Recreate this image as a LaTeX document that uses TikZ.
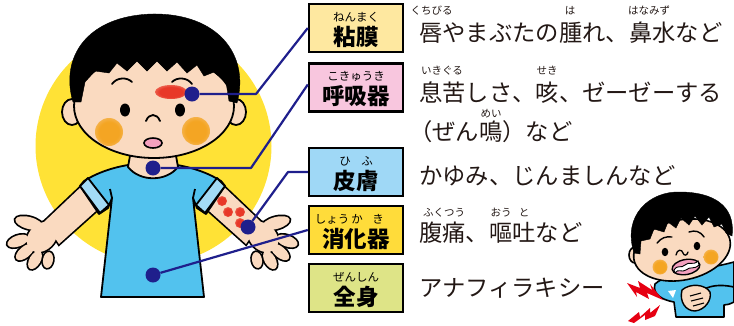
\documentclass[tikz,border=0pt]{standalone}
\usepackage{fontspec}
\newfontfamily\jp{Noto Sans CJK JP}
\usetikzlibrary{calc}

\definecolor{sun}{HTML}{FFE236}
\definecolor{skin}{HTML}{FADAC0}
\definecolor{shirt}{HTML}{52C2EE}
\definecolor{cuff}{HTML}{A3DBF6}
\definecolor{navy}{HTML}{1F1F8C}
\definecolor{cheek}{HTML}{F4A523}
\definecolor{rash}{HTML}{E83828}
\definecolor{mouthpink}{HTML}{F4A0BE}
\definecolor{bolt}{HTML}{E60012}
\definecolor{ink}{HTML}{231815}
\definecolor{boxA}{HTML}{FEE8A0}
\definecolor{boxB}{HTML}{F8C6DE}
\definecolor{boxC}{HTML}{9FD8F6}
\definecolor{boxD}{HTML}{FFDC3A}
\definecolor{boxE}{HTML}{DEE487}

\pgfdeclareradialshading{cheekblur}{\pgfpoint{0bp}{0bp}}{color(0bp)=(cheek); color(18bp)=(cheek); color(50bp)=(skin)}
\pgfdeclareradialshading{rashblur}{\pgfpoint{0bp}{0bp}}{color(0bp)=(rash); color(18bp)=(rash); color(50bp)=(skin)}

% arms and hands of the standing boy, drawn twice to get one merged outline
\newcommand\limbpaths[1]{%
  \path[#1] (83,185) -- (107,201) -- (59,244) -- (44,222) -- cycle;
  \path[#1] (222,185) -- (198,201) -- (246,244) -- (261,222) -- cycle;
  \path[#1, rotate around={45:(42,237)}] (42,237) ellipse [x radius=17, y radius=13];
  \path[#1, rotate around={-15:(29,223)}] (29,223) ellipse [x radius=14, y radius=6];
  \path[#1, rotate around={20:(18,241)}] (18,241) ellipse [x radius=11, y radius=5.5];
  \path[#1, rotate around={40:(25,252)}] (25,252) ellipse [x radius=11, y radius=5.5];
  \path[#1, rotate around={60:(35,260)}] (35,260) ellipse [x radius=10, y radius=5.5];
  \path[#1, rotate around={80:(48,260)}] (48,260) ellipse [x radius=8, y radius=5];
  \path[#1, rotate around={-45:(263,237)}] (263,237) ellipse [x radius=17, y radius=13];
  \path[#1, rotate around={15:(276,223)}] (276,223) ellipse [x radius=14, y radius=6];
  \path[#1, rotate around={-20:(287,241)}] (287,241) ellipse [x radius=11, y radius=5.5];
  \path[#1, rotate around={-40:(280,252)}] (280,252) ellipse [x radius=11, y radius=5.5];
  \path[#1, rotate around={-60:(270,260)}] (270,260) ellipse [x radius=10, y radius=5.5];
  \path[#1, rotate around={-80:(257,260)}] (257,260) ellipse [x radius=8, y radius=5];
}

\begin{document}
\begin{tikzpicture}[x=1pt,y=-1pt,
  outline/.style={draw=black, line width=1.8pt, line join=round},
  catbox/.style={draw=black, line width=2.4pt, minimum width=94pt, minimum height=48pt, inner sep=0pt},
  boxlabel/.style={font=\jp\bfseries\fontsize{22.5}{22.5}\selectfont, anchor=base, inner sep=0pt, text=black},
  boxruby/.style={font=\jp\fontsize{11.5}{11.5}\selectfont, anchor=base, inner sep=0pt, text=black},
  maintext/.style={font=\jp\fontsize{23.3}{23.3}\selectfont, anchor=base west, inner sep=0pt, text=ink},
  ruby/.style={font=\jp\fontsize{10.5}{10.5}\selectfont, anchor=base, inner sep=0pt, text=ink},
  conn/.style={draw=navy, line width=2.2pt, line join=round},
  spot/.style={circle, fill=navy, minimum size=15pt, inner sep=0pt}]
\useasboundingbox (0,0) rectangle (734,325);

% ---------- standing boy ----------
\fill[sun] (153.5,146) circle [radius=118];

\limbpaths{draw=black, line width=3.4pt, fill=skin}
\limbpaths{fill=skin}

% rash on the forearm
\foreach \p in {(222,201),(228,212),(240,212),(240,223)}
  \shade[shading=rashblur] \p circle [radius=5];

% shirt
\filldraw[shirt, outline]
  (128,165) .. controls (110,168) and (95,174) .. (84,181)
  -- (80,186) -- (99,214) -- (108,208) -- (112,198)
  -- (101,297) -- (204,297) -- (193,198)
  -- (197,208) -- (206,214) -- (225,186) -- (221,181)
  .. controls (210,174) and (195,168) .. (177,165) -- cycle;
\draw[outline] (112,198) -- (110,189);
\draw[outline] (193,198) -- (195,189);
\filldraw[cuff, outline] (80,186) -- (88,178) -- (109,205) -- (100,213) -- cycle;
\filldraw[cuff, outline] (225,186) -- (217,178) -- (196,205) -- (205,213) -- cycle;

% neck
\filldraw[skin, outline] (131,150) -- (128,167) .. controls (140,182) and (166,182) .. (178,167) -- (175,150) -- cycle;

% head
\filldraw[skin, outline] (72,112) ellipse [x radius=10, y radius=13];
\filldraw[skin, outline] (236,112) ellipse [x radius=10, y radius=13];
\filldraw[skin, outline] (154,106) ellipse [x radius=80, y radius=52];
\filldraw[black] (73,102) .. controls (60,58) and (86,16) .. (152,14)
  .. controls (218,13) and (250,55) .. (237,103)
  -- (229,101) -- (226,82) -- (214,72) -- (204,76) -- (197,65) -- (187,73)
  -- (177,62) -- (167,71) -- (157,61) -- (147,71) -- (137,61) -- (127,71)
  -- (117,63) -- (109,73) -- (95,71) -- (85,82) -- (81,102) -- cycle;

% face
\shade[shading=rashblur] (171,92) ellipse [x radius=16, y radius=7];
\draw[line width=1.8pt, line cap=round] (112,84) .. controls (117,77) and (127,77) .. (132,82);
\draw[line width=1.8pt, line cap=round] (172,82) .. controls (177,77) and (187,77) .. (192,84);
\fill (125,110) ellipse [x radius=5, y radius=6.5];
\fill (180,110) ellipse [x radius=5, y radius=6.5];
\draw[line width=1.8pt, line cap=round] (146,121) .. controls (149,113) and (157,113) .. (160,121);
\filldraw[mouthpink, draw=black, line width=1.6pt] (153,143) ellipse [x radius=9, y radius=5];
\shade[shading=cheekblur] (109,132) circle [radius=14];
\shade[shading=cheekblur] (196,131) circle [radius=14];

% ---------- crouching boy ----------
\filldraw[shirt, draw=black, line width=1.6pt, line join=round]
  (655,284) .. controls (668,272) and (705,270) .. (734,262) -- (734,302)
  .. controls (730,304) and (727,305) .. (724,305) -- (724,317) -- (676,317)
  -- (674,302) .. controls (662,300) and (652,294) .. (655,284) -- cycle;
\draw[line width=1.6pt] (698,293) .. controls (708,285) and (720,284) .. (734,287);
\filldraw[skin, draw=black, line width=1.4pt]
  (682,290) .. controls (690,283) and (705,284) .. (710,292)
  .. controls (712,300) and (705,310) .. (695,311)
  .. controls (686,311) and (679,302) .. (682,290) -- cycle;
\draw[line width=1.1pt] (690,296) -- (701,293) (691,301) -- (703,298) (693,306) -- (704,303);
\fill[white] (668,291) -- (676,290) -- (673,298) -- cycle;

\filldraw[skin, draw=black, line width=1.6pt] (635,255) ellipse [x radius=6, y radius=8];
\filldraw[skin, draw=black, line width=1.6pt, rotate around={12:(682,250)}] (682,250) ellipse [x radius=49, y radius=30];
\filldraw[black] (634,253) .. controls (622,215) and (650,191) .. (680,192)
  .. controls (712,192) and (736,205) .. (732,236)
  -- (726,233) -- (722,224) -- (714,227) -- (709,217) -- (702,225) -- (695,216)
  -- (689,225) -- (681,218) -- (676,228) -- (668,222) -- (664,232) -- (654,229)
  -- (650,239) -- (641,241) -- (640,254) -- cycle;

\draw[line width=1.4pt, line cap=round] (657,243) .. controls (661,238) and (666,236) .. (672,237);
\draw[line width=1.4pt, line cap=round] (689,232) .. controls (695,230) and (700,231) .. (704,237);
\fill (665,252) ellipse [x radius=3.3, y radius=4.2];
\fill (697,246) ellipse [x radius=3.3, y radius=4.2];
\draw[line width=1.3pt, line cap=round] (676,255) .. controls (677,249) and (682,249) .. (683,253) .. controls (684,256) and (687,256) .. (688,252);
\filldraw[mouthpink, draw=black, line width=1.4pt, rotate around={10:(686,267)}] (686,267) ellipse [x radius=14, y radius=7.5];
\filldraw[white, draw=black, line width=0.9pt]
  (674,270) .. controls (678,264) and (681,269) .. (685,265) .. controls (689,261) and (693,266) .. (698,261)
  -- (699,265) .. controls (694,270) and (690,266) .. (686,270) .. controls (682,273) and (678,268) .. (675,273) -- cycle;
\shade[shading=cheekblur] (660,267) circle [radius=7.5];
\shade[shading=cheekblur] (711,257) circle [radius=7.5];

% pain marks
\fill[bolt] (627,283) -- (640,288) -- (638,281) -- (652,290) -- (650,284) -- (663,300)
  -- (647,293) -- (649,299) -- (636,292) -- (637,297) -- cycle;
\fill[bolt] (628,321) -- (639,312) -- (640,317) -- (650,308) -- (650,313) -- (660,305)
  -- (655,316) -- (645,320) -- (645,315) -- (634,323) -- cycle;

% ---------- category boxes ----------
\node[catbox, fill=boxA] (b1) at (356,28) {};
\node[catbox, fill=boxB] (b2) at (356,87.5) {};
\node[catbox, fill=boxC] (b3) at (356,172) {};
\node[catbox, fill=boxD] (b4) at (356,230) {};
\node[catbox, fill=boxE] (b5) at (356,288) {};

\node[boxruby] (b1r) at ($(b1.center)+(0,-7)$) {ねんまく};
\node[boxlabel] (b1l) at ($(b1.center)+(0,17)$) {粘膜};
\node[boxruby] (b2r) at ($(b2.center)+(0,-7)$) {こきゅうき};
\node[boxlabel] (b2l) at ($(b2.center)+(0,17)$) {呼吸器};
\node[boxruby] (b3ra) at ($(b3.center)+(-11,-7)$) {ひ};
\node[boxruby] (b3rb) at ($(b3.center)+(11,-7)$) {ふ};
\node[boxlabel] (b3l) at ($(b3.center)+(0,17)$) {皮膚};
\node[boxruby] (b4ra) at ($(b4.center)+(-24,-7)$) {しょう};
\node[boxruby] (b4rb) at ($(b4.center)+(1,-7)$) {か};
\node[boxruby] (b4rc) at ($(b4.center)+(22,-7)$) {き};
\node[boxlabel] (b4l) at ($(b4.center)+(0,17)$) {消化器};
\node[boxruby] (b5r) at ($(b5.center)+(0,-7)$) {ぜんしん};
\node[boxlabel] (b5l) at ($(b5.center)+(0,17)$) {全身};

% ---------- symptoms ----------
\node[ruby] (t1a) at (431.5,14) {くちびる};
\node[ruby] (t1b) at (570,14) {は};
\node[ruby] (t1c) at (649,14) {はなみず};
\node[maintext] (t1) at (419,41.5) {唇やまぶたの腫れ、鼻水など};

\node[ruby] (t2a) at (442,74) {いきぐる};
\node[ruby] (t2b) at (547,74) {せき};
\node[maintext] (t2) at (419,101) {息苦しさ、咳、ゼーゼーする};

\node[ruby] (t3a) at (491,117) {めい};
\node[maintext] (t3) at (409,140) {（ぜん鳴）など};

\node[maintext] (t4) at (419,184) {かゆみ、じんましんなど};

\node[ruby] (t5a) at (444,216) {ふくつう};
\node[ruby] (t5b) at (501,216) {おう};
\node[ruby] (t5c) at (524,216) {と};
\node[maintext] (t5) at (419,241) {腹痛、嘔吐など};

\node[maintext] (t6) at (419,296) {アナフィラキシー};

% ---------- connectors ----------
\node[spot] (d1) at (192,94) {};
\node[spot] (d2) at (153,168) {};
\node[spot] (d3) at (248,227) {};
\node[spot] (d4) at (153,275) {};
\coordinate (k1) at (256,94);
\coordinate (k2) at (251,168);
\coordinate (k3) at (288,172);
\draw[conn] (d1) -- (k1) -- (b1.west);
\draw[conn] (d2) -- (k2) -- ($(b2.west)+(0,-3)$);
\draw[conn] (d3) -- (k3) -- (b3.west);
\draw[conn] (d4) -- (b4.west);
\end{tikzpicture}
\end{document}
